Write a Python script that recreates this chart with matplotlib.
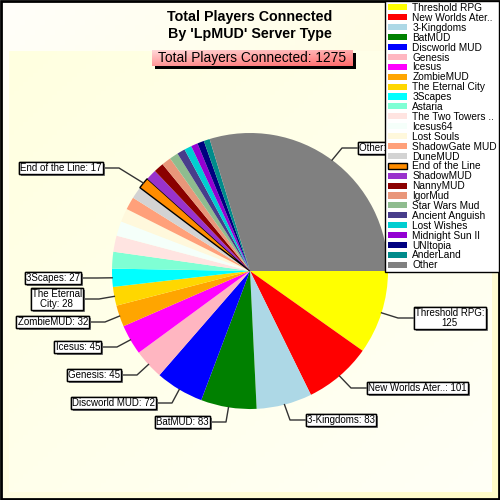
import numpy as np
import matplotlib
matplotlib.use("Agg")
import matplotlib.pyplot as plt
from matplotlib.patches import Rectangle
from matplotlib.colors import LinearSegmentedColormap
import matplotlib.patheffects as pe

plt.rcParams['font.family'] = ['Liberation Sans', 'DejaVu Sans']

# data
servers = ["Threshold RPG", "New Worlds Ater..", "3-Kingdoms", "BatMUD", "Discworld MUD",
           "Genesis", "Icesus", "ZombieMUD", "The Eternal City", "3Scapes", "Astaria",
           "The Two Towers ..", "Icesus64", "Lost Souls", "ShadowGate MUD", "DuneMUD",
           "End of the Line", "ShadowMUD", "NannyMUD", "IgorMud", "Star Wars Mud",
           "Ancient Anguish", "Lost Wishes", "Midnight Sun II", "UNItopia", "AnderLand", "Other"]
players = [125, 101, 83, 83, 72, 45, 45, 32, 28, 27, 25,
           24, 22, 20, 19, 18, 17, 16, 15, 14, 13,
           12, 11, 10, 10, 9, 379]
colors = ["#FFFF00", "#FF0000", "#ADD8E6", "#008000", "#0000FF", "#FFB6C1", "#FF00FF",
          "#FFA500", "#FFD700", "#00FFFF", "#7FFFD4", "#FFE4E1", "#F5FFFA", "#FFF8DC",
          "#FFA07A", "#D3D3D3", "#FF8C00", "#9932CC", "#8B0000", "#E9967A", "#8FBC8F",
          "#483D8B", "#00CED1", "#9400D3", "#000080", "#008B8B", "#808080"]
exploded = "End of the Line"
total = sum(players)

# labelled slices: name -> (side, box edge x, box centre y) in pixels from top-left
label_layout = {
    "Other": ("right", 357, 148),
    "Threshold RPG": ("right", 413, 318),
    "New Worlds Ater..": ("right", 366, 388),
    "3-Kingdoms": ("right", 305, 420),
    "BatMUD": ("left", 211, 422),
    "Discworld MUD": ("left", 157, 403),
    "Genesis": ("left", 122, 375),
    "Icesus": ("left", 102, 347),
    "ZombieMUD": ("left", 90, 322),
    "The Eternal City": ("left", 84, 299),
    "3Scapes": ("left", 82, 278),
    "End of the Line": ("left", 104, 168),
}
label_text = {"Threshold RPG": "Threshold RPG:\n125", "The Eternal City": "The Eternal\nCity: 28"}

fig = plt.figure(figsize=(5, 5), dpi=100)

# background gradients
bg = fig.add_axes([0, 0, 1, 1])
bg.axis("off")
xx, yy = np.meshgrid(np.linspace(0, 1, 100), np.linspace(0, 1, 100))
outer_cm = LinearSegmentedColormap.from_list("outer", ["#FFFFFA", "#FFFCC8"])
inner_cm = LinearSegmentedColormap.from_list("inner", ["#FFFFE0", "#FFFFF6"])
bg.imshow((xx + yy) / 2, cmap=outer_cm, extent=(0, 500, 500, 0), aspect="auto")
bg.imshow((xx + yy) / 2, cmap=inner_cm, extent=(9, 492, 492, 51), aspect="auto")
bg.add_patch(Rectangle((0.5, 0.5), 498, 498, fill=False, edgecolor="black", lw=2))
bg.set_xlim(0, 500)
bg.set_ylim(500, 0)

ax = fig.add_axes([0, 0, 1, 1])
ax.patch.set_alpha(0)
cx, cy, r = 250, 229, 138
explode = [0.12 if s == exploded else 0 for s in servers]
wedges, _ = ax.pie(players, colors=colors, startangle=0, counterclock=False,
                   center=(cx, cy), radius=r, explode=explode, frame=True,
                   wedgeprops=dict(linewidth=0))
for w, s in zip(wedges, servers):
    w.set_label(s)
    if s == exploded:
        w.set_edgecolor("black")
        w.set_linewidth(1)
ax.set_xlim(0, 500)
ax.set_ylim(0, 500)
ax.set_aspect("equal")
ax.axis("off")

for w, s, v in zip(wedges, servers, players):
    if s not in label_layout:
        continue
    side, bx, by = label_layout[s]
    by = 500 - by
    mid = np.deg2rad((w.theta1 + w.theta2) / 2)
    ax0 = w.center[0] + w.r * np.cos(mid)
    ay0 = w.center[1] + w.r * np.sin(mid)
    elbow = bx - 15 if side == "right" else bx + 15
    ax.plot([ax0, elbow, bx], [ay0, by, by], color="#333333", lw=1, zorder=3)
    txt = label_text.get(s, f"{s}: {v}")
    t = ax.text(bx + (2 if side == "right" else -2), by, txt, fontsize=7,
                ha="left" if side == "right" else "right", va="center",
                multialignment="center", zorder=4, linespacing=1.0,
                bbox=dict(boxstyle="square,pad=0.12", facecolor="white",
                          edgecolor="black", lw=1))
    t.get_bbox_patch().set_path_effects([
        pe.withSimplePatchShadow(offset=(1.5, -1.5), shadow_rgbFace="#808080", alpha=1),
        pe.Normal()])

# title
fig.text(0.5, 1 - 17 / 500, "Total Players Connected", ha="center", va="center",
         fontsize=10.3, fontweight="bold")
fig.text(0.5, 1 - 34 / 500, "By 'LpMUD' Server Type", ha="center", va="center",
         fontsize=10.3, fontweight="bold")

# subtitle box with shadow and gradient
bg.add_patch(Rectangle((155, 53), 201, 16, facecolor="black", edgecolor="none"))
sub = fig.add_axes([152 / 500, 1 - 66 / 500, 201 / 500, 16 / 500])
sub_cm = LinearSegmentedColormap.from_list("sub", ["#FFD8D8", "#FF6A6A"])
sub.imshow((0.4 * xx + 0.6 * yy), cmap=sub_cm, aspect="auto", extent=(0, 1, 0, 1))
sub.axis("off")
sub.text(0.5, 0.5, f"Total Players Connected: {total}", ha="center", va="center",
         fontsize=9.9, transform=sub.transAxes)

# legend
leg = ax.legend(handles=wedges, labels=servers, loc="upper right",
                bbox_to_anchor=(0.998, 0.998), bbox_transform=fig.transFigure,
                fontsize=7.3, frameon=True, fancybox=False, framealpha=1,
                edgecolor="black", facecolor="white", labelspacing=-0.01,
                handlelength=1.9, handleheight=0.55, handletextpad=0.55,
                borderpad=0.2, borderaxespad=0)
leg.get_frame().set_linewidth(1)
leg.set_zorder(10)

fig.savefig("out.png", dpi=100)
